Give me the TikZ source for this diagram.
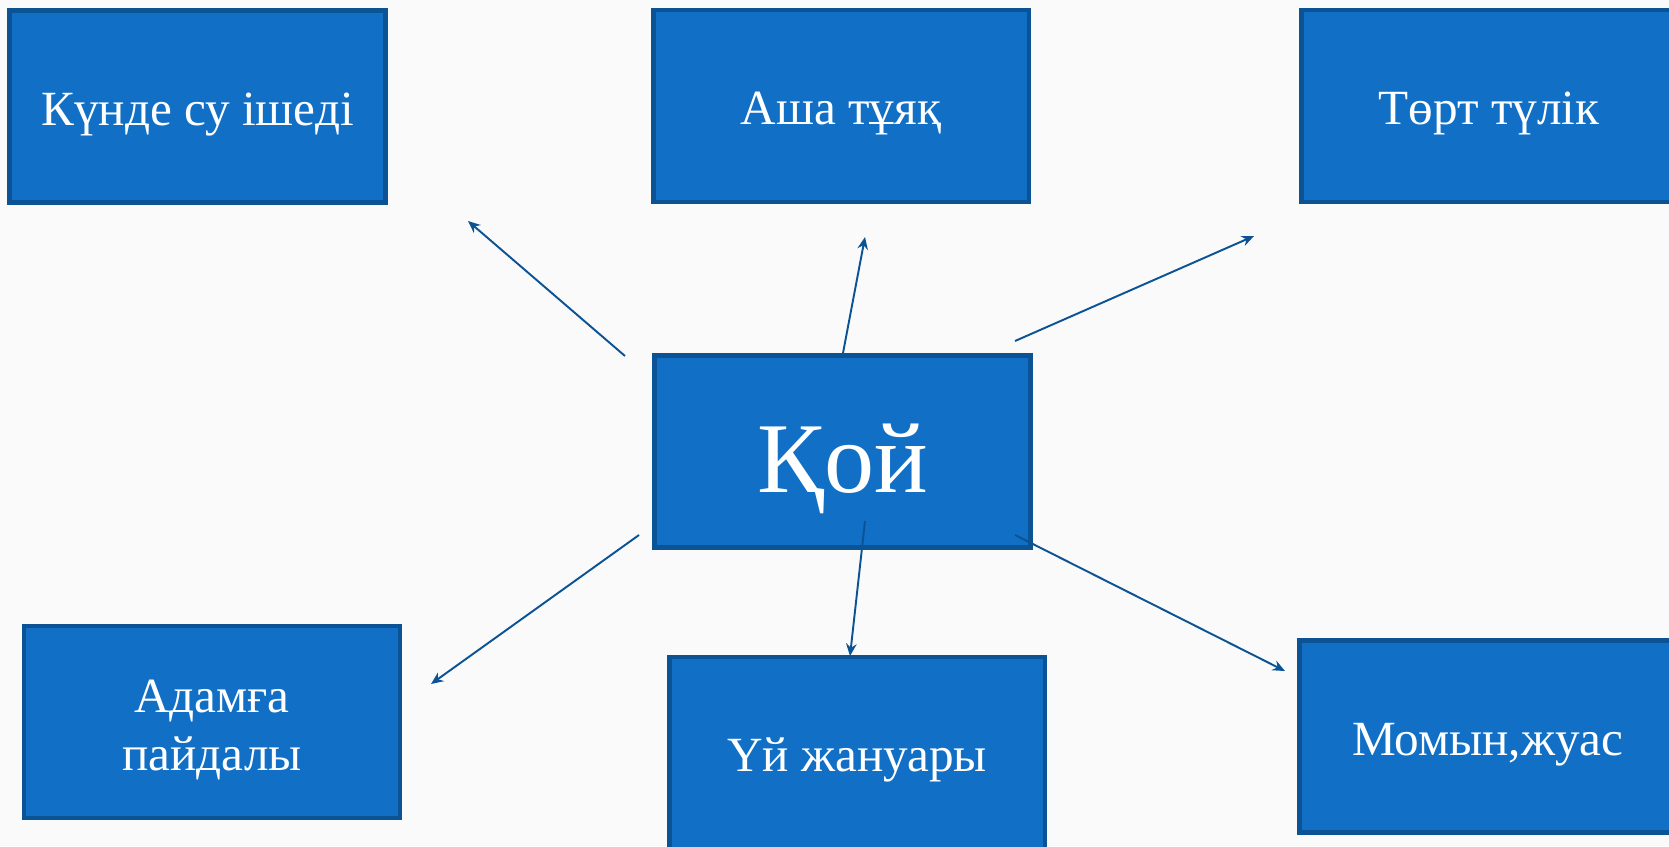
\documentclass[tikz,border=0pt]{standalone}
\usepackage{fontspec}
\setmainfont{Liberation Serif}
\usetikzlibrary{arrows.meta}

\definecolor{boxblue}{HTML}{1170C6}
\definecolor{edgeblue}{HTML}{0B5394}
\definecolor{paper}{HTML}{FAFAFA}

\tikzstyle{card}=[rectangle,fill=boxblue,draw=edgeblue,line width=2.8pt,minimum width=7.52cm,minimum height=3.84cm,inner sep=0pt,text=white,align=center,font=\fontsize{28}{33}\selectfont,text height=0.96cm,text depth=0.22cm]
\tikzstyle{link} = [draw,color=edgeblue,line width=1.1pt,-{Stealth[length=7pt,width=6pt]}]

\begin{document}
\begin{tikzpicture}[x=0.02cm,y=-0.02cm]
			\fill[paper] (0,0) rectangle (1669,846);
			\useasboundingbox (0,0) rectangle (1669,846);
			% the boxes
			\node[card] (su) at (197.5,106.5) {Күнде су ішеді};
			\node[card] (tuyaq) at (841,106) {Аша тұяқ};
			\node[card] (tulik) at (1489,106) {Төрт түлік};
			\node[card,font=\fontsize{57}{62}\selectfont,text height=2.02cm,text depth=0.4cm] (qoy) at (842.5,451.5) {Қой};
			\node[card,text height=2.16cm,text depth=0.22cm] (payda) at (212,722) {Адамға\\пайдалы};
			\node[card] (uy) at (857,753) {Үй жануары};
			\node[card] (momyn) at (1487.5,736.5) {Момын,жуас};
			% ends of the arrows
			\coordinate (s1) at (625,356);  \coordinate (e1) at (468,221);
			\coordinate (s2) at (843,353);  \coordinate (e2) at (865,237);
			\coordinate (s3) at (1015,341); \coordinate (e3) at (1254,236);
			\coordinate (s4) at (639,535);  \coordinate (e4) at (431,684);
			\coordinate (s5) at (865,521);  \coordinate (e5) at (850,656);
			\coordinate (s6) at (1015,535); \coordinate (e6) at (1285,671);
			% connect them
			\foreach \source/ \dest in {s1/e1, s2/e2, s3/e3, s4/e4, s5/e5, s6/e6}
				\path[link] (\source) -- (\dest);
\end{tikzpicture}
\end{document}
